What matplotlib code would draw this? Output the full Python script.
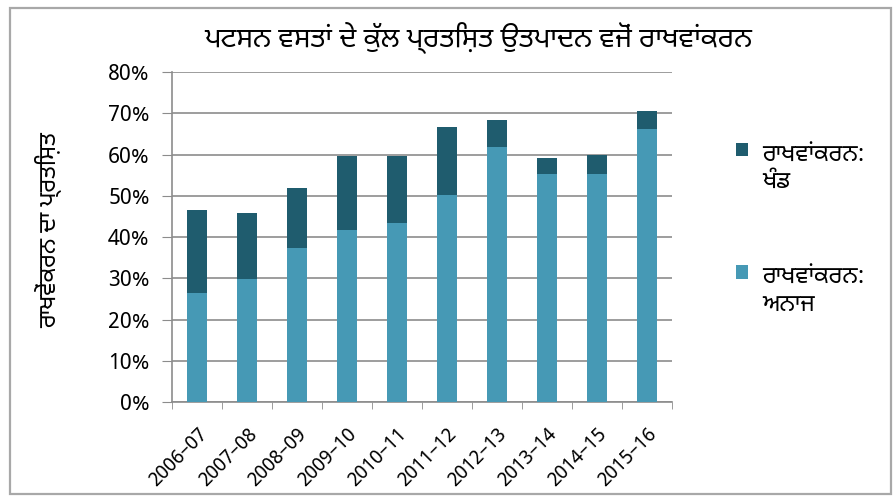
import numpy as np
import matplotlib.pyplot as plt
from matplotlib.patches import Rectangle

plt.rcParams['font.family'] = ['Noto Sans Gurmukhi', 'Open Sans', 'DejaVu Sans']

#%% Datos
años = ['2006–07', '2007–08', '2008–09', '2009–10', '2010–11',
        '2011–12', '2012–13', '2013–14', '2014–15', '2015–16']
anaj = [26.5, 29.7, 37.3, 41.7, 43.3, 50.3, 61.9, 55.3, 55.3, 66.2]
total = [46.5, 45.9, 52.0, 59.6, 59.6, 66.7, 68.4, 59.1, 60.0, 70.5]
khand = [t - a for t, a in zip(total, anaj)]

titulo = 'ਪਟਸਨ ਵਸਤਾਂ ਦੇ ਕੁੱਲ ਪ੍ਰਤਿਸ਼ਤ ਉਤਪਾਦਨ ਵਜੋਂ ਰਾਖਵਾਂਕਰਨ'
ylabel = 'ਰਾਖਵੇਂਕਰਨ ਦਾ ਪ੍ਰਤਿਸ਼ਤ'
leg_khand = 'ਰਾਖਵਾਂਕਰਨ:\nਖੰਡ'
leg_anaj = 'ਰਾਖਵਾਂਕਰਨ:\nਅਨਾਜ'

color_anaj = '#4699b5'
color_khand = '#1f5c6e'
gris = '#8c8c8c'

#%% Gráfico
fig = plt.figure(figsize=(8.94, 4.96), dpi=100)
ax = fig.add_axes([0.1924, 0.1895, 0.5593, 0.6653])

x = np.arange(len(años))
b1 = ax.bar(x, anaj, width=0.4, color=color_anaj, zorder=3)
b2 = ax.bar(x, khand, width=0.4, bottom=anaj, color=color_khand, zorder=3)

ax.set_xlim(-0.5, len(años) - 0.5)
ax.set_ylim(0, 80)
ax.set_yticks(range(0, 81, 10))
ax.set_yticklabels([f'{v}%' for v in range(0, 81, 10)], fontsize=15.5)
ax.yaxis.grid(True, color=gris, linewidth=1.2, zorder=0)

ax.set_xticks(x)
ax.set_xticklabels(años, rotation=45, ha='right', rotation_mode='anchor', fontsize=14)
ax.tick_params(axis='x', length=0, pad=16)
ax.set_xticks(np.arange(-0.5, len(años), 1), minor=True)
ax.tick_params(axis='x', which='minor', length=5, color=gris)
ax.tick_params(axis='y', length=7, color=gris, pad=9)

for s in ['top', 'right']:
    ax.spines[s].set_visible(False)
for s in ['left', 'bottom']:
    ax.spines[s].set_color(gris)
    ax.spines[s].set_linewidth(1.2)

fig.text(0.535, 0.925, titulo, ha='center', va='center', fontsize=20)
fig.text(0.054, 0.537, ylabel, ha='center', va='center', rotation=90, fontsize=17)

leg = ax.legend([b2, b1], [leg_khand, leg_anaj], loc='upper left',
                bbox_to_anchor=(1.085, 0.85), frameon=False, fontsize=17,
                handlelength=0.5, handleheight=0.5, labelspacing=3.0, handletextpad=0.6)
# cuadrito alineado con la primera línea del texto
for col in leg._legend_handle_box.get_children():
    for item in col.get_children():
        item.align = 'top'

fig.add_artist(Rectangle((0.011, 0.004), 0.986, 0.98, transform=fig.transFigure,
                         fill=False, edgecolor='#a8a8a8', linewidth=1.6))

fig.savefig('out.png', dpi=100)
